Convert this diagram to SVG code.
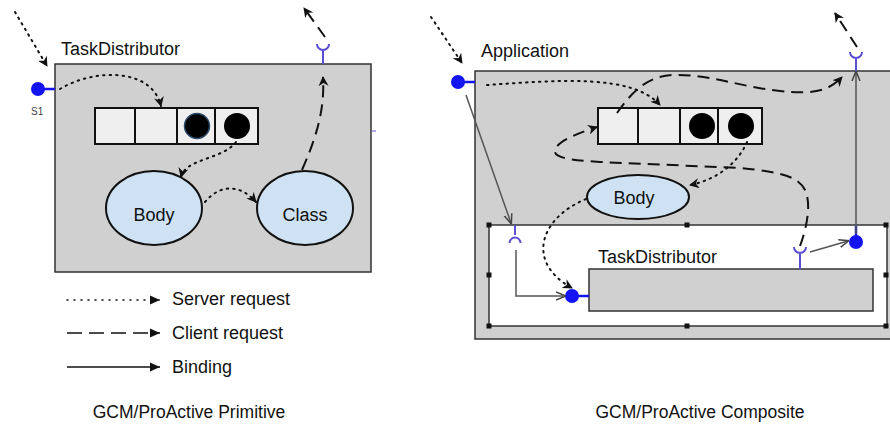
<svg xmlns="http://www.w3.org/2000/svg" width="890" height="425" viewBox="0 0 890 425">
<style>
text{font-family:"Liberation Sans",Arial,sans-serif;fill:#111}
.lbl{font-size:18px}
.ctr{text-anchor:middle}
.box{fill:#d0d0d0;stroke:#333;stroke-width:1.5}
.cell{fill:#efefef;stroke:#111;stroke-width:2}
.ell{fill:#cfe2f3;stroke:#111;stroke-width:2}
.dot{fill:none;stroke:#111;stroke-width:2;stroke-dasharray:1.5,5;stroke-linecap:round}
.dash{fill:none;stroke:#111;stroke-width:2;stroke-dasharray:12,7}
.bind{fill:none;stroke:#555;stroke-width:1.5}
.port{fill:#1414f0}
.stem{stroke:#1414f0;stroke-width:2.5}
.itf{fill:none;stroke:#5a4fd0;stroke-width:2}
.hdl{fill:#111}
</style>
<defs>
<marker id="ah" viewBox="0 0 10 10" refX="9" refY="5" markerWidth="10" markerHeight="10" markerUnits="userSpaceOnUse" orient="auto">
<path d="M0,0 L10,5 L0,10 L3,5 z" fill="#111"/>
</marker>
<marker id="ab" viewBox="0 0 10 10" refX="9" refY="5" markerWidth="10" markerHeight="10" markerUnits="userSpaceOnUse" orient="auto">
<path d="M0,1 L10,5 L0,9" fill="none" stroke="#444" stroke-width="1.5"/>
</marker>
<marker id="lg" viewBox="0 0 10 10" refX="10" refY="5" markerWidth="11" markerHeight="10" markerUnits="userSpaceOnUse" orient="auto">
<path d="M0,0.5 L10,5 L0,9.5 z" fill="#111"/>
</marker>
</defs>

<!-- ========== PRIMITIVE ========== -->
<g id="primitive">
<rect class="box" x="55" y="64" width="316" height="208"/>
<text class="lbl" x="61" y="55">TaskDistributor</text>
</g>
<g id="prim-port-s1">
<line class="stem" x1="38" y1="89" x2="55" y2="89"/>
<circle class="port" cx="38" cy="89" r="7"/>
<text x="31" y="115" style="font-size:10px;fill:#444">S1</text>
</g>
<g id="prim-client-itf">
<path class="itf" d="M317,44 A6,6 0 0 0 329,44 M323,50 L323,64"/>
</g>
<g id="prim-queue">
<rect class="cell" x="95" y="108" width="40" height="36"/>
<rect class="cell" x="135" y="108" width="42" height="36"/>
<rect class="cell" x="177" y="108" width="38" height="36"/>
<rect class="cell" x="215" y="108" width="43" height="36"/>
<circle cx="197" cy="126" r="12.5" fill="#000" stroke="#2a4a6a" stroke-width="1.5"/>
<circle cx="237" cy="126" r="13" fill="#000"/>
</g>
<g id="prim-body">
<ellipse class="ell" cx="154" cy="208" rx="48" ry="37"/>
<text class="lbl ctr" x="154" y="221">Body</text>
</g>
<g id="prim-class">
<ellipse class="ell" cx="305" cy="208" rx="48" ry="37"/>
<text class="lbl ctr" x="305" y="221">Class</text>
</g>
<line x1="372" y1="131" x2="376" y2="131" stroke="#5a4fd0" stroke-width="1"/>

<!-- ========== COMPOSITE ========== -->
<g id="application">
<rect class="box" x="475" y="71" width="430" height="268"/>
<text class="lbl" x="481" y="57">Application</text>
</g>
<g id="app-port">
<line class="stem" x1="458" y1="82" x2="475" y2="82"/>
<circle class="port" cx="458" cy="82" r="7"/>
</g>
<g id="app-client-itf">
<path class="itf" d="M850,52 A6,6 0 0 0 862,52 M856,58 L856,71"/>
</g>
<g id="app-queue">
<rect class="cell" x="598" y="108" width="40" height="36"/>
<rect class="cell" x="638" y="108" width="42" height="36"/>
<rect class="cell" x="680" y="108" width="38" height="36"/>
<rect class="cell" x="718" y="108" width="44" height="36"/>
<circle cx="702" cy="126" r="13" fill="#000"/>
<circle cx="741" cy="126" r="13" fill="#000"/>
</g>
<g id="app-body">
<ellipse class="ell" cx="638" cy="197" rx="51" ry="22"/>
<text class="lbl ctr" x="634" y="204">Body</text>
</g>
<g id="membrane">
<rect x="489" y="225" width="398" height="101" fill="#fff" stroke="#333" stroke-width="1.5"/>
<rect class="hdl" x="486.5" y="222.5" width="5" height="5"/>
<rect class="hdl" x="684.5" y="222.5" width="5" height="5"/>
<rect class="hdl" x="883.5" y="222.5" width="5" height="5"/>
<rect class="hdl" x="486.5" y="272.5" width="5" height="5"/>
<rect class="hdl" x="883.5" y="272.5" width="5" height="5"/>
<rect class="hdl" x="486.5" y="323.5" width="5" height="5"/>
<rect class="hdl" x="684.5" y="323.5" width="5" height="5"/>
<rect class="hdl" x="883.5" y="323.5" width="5" height="5"/>
</g>
<g id="membrane-server-itf">
<path class="itf" d="M515,225 L515,235 M509.5,243 A5.5,5.5 0 0 1 520.5,243"/>
</g>
<g id="membrane-client-port">
<line class="stem" x1="856" y1="226" x2="856" y2="240"/>
<circle class="port" cx="856" cy="242" r="7"/>
</g>
<g id="inner-taskdistributor">
<rect class="box" x="589" y="269" width="284" height="42"/>
<text class="lbl" x="598" y="263">TaskDistributor</text>
</g>
<g id="inner-port">
<line class="stem" x1="572" y1="296" x2="589" y2="296"/>
<circle class="port" cx="572" cy="296" r="7"/>
</g>
<g id="inner-client-itf">
<path class="itf" d="M794,247 A6,6 0 0 0 806,247 M800,253 L800,269"/>
</g>

<!-- ========== CONNECTORS ========== -->
<g id="connectors">
<!-- primitive -->
<path class="dot" d="M15,12 L47,66" marker-end="url(#ah)"/>
<path class="dot" d="M60,89 C95,68 152,68 161,106" marker-end="url(#ah)"/>
<path class="dot" d="M236,142 C222,160 186,158 181,177" marker-end="url(#ah)"/>
<path class="dot" d="M205,202 C220,184 240,184 256,202" marker-end="url(#ah)"/>
<path class="dash" d="M302,170 C316,138 325,110 323,77" marker-end="url(#ah)"/>
<path class="dash" d="M325,37 L304,8" marker-end="url(#ah)"/>
<!-- composite -->
<path class="dot" d="M431,17 L462,63" marker-end="url(#ah)"/>
<path class="dot" d="M487,85 C560,80 632,74 660,105" marker-end="url(#ah)"/>
<path class="dot" d="M747,142 C737,165 715,180 690,185" marker-end="url(#ah)"/>
<path class="dot" d="M586,199 C540,218 525,262 572,288" marker-end="url(#ah)"/>
<path class="dash" d="M617,113 C630,95 645,76 673,75 C710,74 740,87 780,91 C815,95 830,90 842,77" marker-end="url(#ah)"/>
<path class="dash" d="M800,246 C806,230 812,205 805,190 C798,176 780,172 740,168 L600,162 C570,160 553,158 555,150 C557,142 575,134 597,127" marker-end="url(#ah)"/>
<path class="dash" d="M857,47 L835,13" marker-end="url(#ah)"/>
<path class="bind" d="M466,95 L511,223" marker-end="url(#ab)"/>
<path class="bind" d="M516,250 L516,296 L565,296" marker-end="url(#ab)"/>
<path class="bind" d="M810,252 L848,241" marker-end="url(#ab)"/>
<path class="bind" d="M856,234 L856,72" marker-end="url(#ab)"/>
</g>

<!-- ========== LEGEND ========== -->
<g id="legend">
<path class="dot" d="M67,300 L150,300" style="stroke-width:1.5;stroke-dasharray:1,6"/>
<path d="M150,300 L160,300" stroke="#111" marker-end="url(#lg)"/>
<text x="172" y="305" style="font-size:18px">Server request</text>
<path d="M67,333 L150,333" fill="none" stroke="#111" stroke-width="1.5" stroke-dasharray="15,7"/>
<path d="M150,333 L160,333" stroke="#111" stroke-width="1.5" marker-end="url(#lg)"/>
<text x="172" y="339" style="font-size:18px">Client request</text>
<path d="M67,367 L160,367" fill="none" stroke="#111" stroke-width="1.5" marker-end="url(#lg)"/>
<text x="172" y="373" style="font-size:18px">Binding</text>
</g>
<text class="ctr" x="189" y="418" style="font-size:17.5px">GCM/ProActive Primitive</text>
<text class="ctr" x="700" y="418" style="font-size:17.5px">GCM/ProActive Composite</text>
</svg>
